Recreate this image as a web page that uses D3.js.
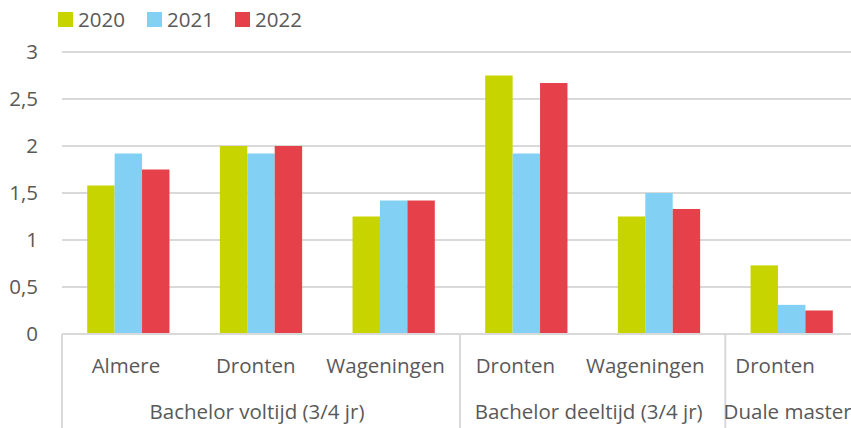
<!DOCTYPE html>
<html>
<head>
<meta charset="utf-8">
<script src="https://cdn.jsdelivr.net/npm/d3@7"></script>
<style>
  html, body { margin: 0; padding: 0; background: #fff; }
  svg { display: block; font-family: "Open Sans", sans-serif; }
</style>
</head>
<body>
<svg></svg>
<script>
// data
const categories = ["Almere", "Dronten", "Wageningen", "Dronten", "Wageningen", "Dronten"];
const groupLabels = ["Bachelor voltijd (3/4 jr)", "Bachelor deeltijd (3/4 jr)", "Duale master"];
const groupSizes = [3, 2, 1];
const years = ["2020", "2021", "2022"];
const values2020 = [1.58, 2.0, 1.25, 2.75, 1.25, 0.73];
const values2021 = [1.92, 1.92, 1.42, 1.92, 1.5, 0.31];
const values2022 = [1.75, 2.0, 1.42, 2.67, 1.33, 0.25];
const yTicks = [0, 0.5, 1, 1.5, 2, 2.5, 3];
const colours = ["#c8d400", "#82d0f4", "#e6414a"];

const width = 851, height = 428;
const svg = d3.select("svg")
  .attr("width", width)
  .attr("height", height);

// plot area runs past the right edge, like the cropped original
const plotLeft = 62, plotRight = 858, plotTop = 52, plotBottom = 334;
const textColour = "#595959", lineColour = "#d9d9d9";
const fontSize = 20.5;

const x = d3.scaleBand()
  .domain(categories.map((d, i) => i))
  .range([plotLeft, plotRight])
  .paddingInner(0.38)
  .paddingOuter(0.19);

// the original's category labels sit on a slightly tighter spacing than the bars
const xLabel = d3.scaleBand()
  .domain(x.domain())
  .range([61, 840]);

const xSub = d3.scaleBand()
  .domain(years)
  .range([0, x.bandwidth()]);

const y = d3.scaleLinear()
  .domain([0, 3])
  .range([plotBottom, plotTop]);

const series = [values2020, values2021, values2022];

// gridlines
svg.append("g")
  .selectAll("line")
  .data(yTicks.filter(d => d > 0))
  .join("line")
    .attr("x1", plotLeft)
    .attr("x2", plotRight)
    .attr("y1", d => y(d))
    .attr("y2", d => y(d))
    .attr("stroke", lineColour)
    .attr("stroke-width", 2);

// y labels
svg.append("g")
  .selectAll("text")
  .data(yTicks)
  .join("text")
    .attr("x", 38)
    .attr("y", d => y(d))
    .attr("dy", "0.35em")
    .attr("text-anchor", "end")
    .attr("font-size", fontSize)
    .attr("fill", textColour)
    .text(d => String(d).replace(".", ","));

// bars
const groups = svg.append("g")
  .selectAll("g")
  .data(categories.map((c, i) => i))
  .join("g")
    .attr("transform", i => `translate(${x(i)},0)`);

groups.selectAll("rect")
  .data(i => years.map((yr, k) => ({ yr, k, v: series[k][i] })))
  .join("rect")
    .attr("x", d => xSub(d.yr))
    .attr("width", xSub.bandwidth())
    .attr("y", d => y(d.v))
    .attr("height", d => y(0) - y(d.v))
    .attr("fill", d => colours[d.k]);

// axis line and group separators
svg.append("line")
  .attr("x1", plotLeft).attr("x2", plotRight)
  .attr("y1", plotBottom).attr("y2", plotBottom)
  .attr("stroke", lineColour)
  .attr("stroke-width", 2);

const step = x.step();
let start = 0;
const groupPos = groupSizes.map(n => {
  const g = { from: plotLeft + start * step, to: plotLeft + (start + n) * step };
  start += n;
  return g;
});

svg.append("g")
  .selectAll("line")
  .data(groupPos)
  .join("line")
    .attr("x1", d => d.from).attr("x2", d => d.from)
    .attr("y1", plotBottom).attr("y2", height)
    .attr("stroke", lineColour)
    .attr("stroke-width", 2);

// category labels
svg.append("g")
  .selectAll("text")
  .data(categories)
  .join("text")
    .attr("x", (d, i) => xLabel(i) + xLabel.bandwidth() / 2)
    .attr("y", 373)
    .attr("text-anchor", "middle")
    .attr("font-size", fontSize)
    .attr("fill", textColour)
    .text(d => d);

// group labels
svg.append("g")
  .selectAll("text")
  .data(groupLabels)
  .join("text")
    .attr("x", (d, i) => (groupPos[i].from + groupPos[i].to) / 2 - 4)
    .attr("y", 419)
    .attr("text-anchor", "middle")
    .attr("font-size", fontSize)
    .attr("fill", textColour)
    .text(d => d);

// legend
const legendX = [58, 147, 235];
const legend = svg.append("g")
  .selectAll("g")
  .data(years)
  .join("g")
    .attr("transform", (d, i) => `translate(${legendX[i]},12)`);

legend.append("rect")
  .attr("width", 15)
  .attr("height", 15)
  .attr("fill", (d, i) => colours[i]);

legend.append("text")
  .attr("x", 20)
  .attr("y", 7.5)
  .attr("dy", "0.35em")
  .attr("font-size", fontSize)
  .attr("fill", textColour)
  .text(d => d);
</script>
</body>
</html>
